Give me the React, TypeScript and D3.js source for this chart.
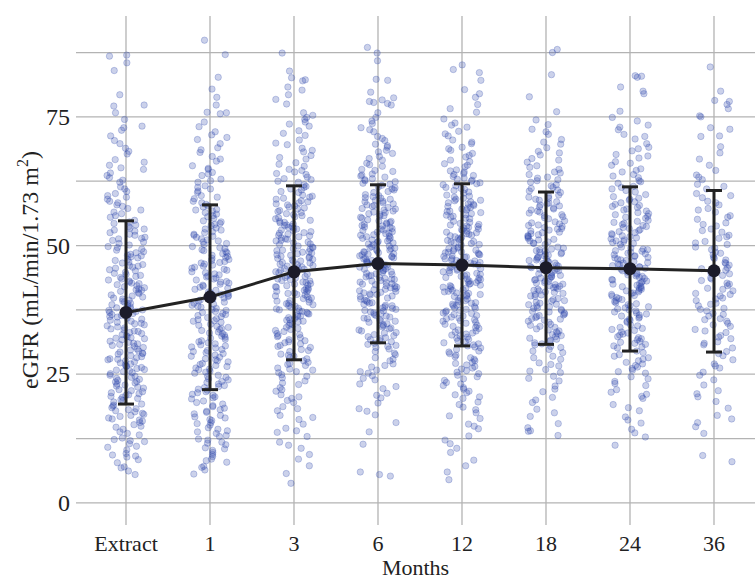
import * as d3 from "d3";

// time points on the x axis
const categories = ["Extract", "1", "3", "6", "12", "18", "24", "36"];

// eGFR readings per time point
const extractVals = [
  5.5, 6.2, 7.0, 7.8, 8.4, 9.1, 9.6, 8.9, 10.3, 10.8, 11.5, 12.1, 12.6, 13.2, 13.8, 14.3, 14.7, 11.9,
  15.2, 15.6, 16.1, 16.5, 17.0, 17.4, 17.9, 18.3, 18.8, 19.2, 19.6, 16.8, 18.1,
  20.1, 20.5, 21.0, 21.4, 21.8, 22.3, 22.7, 23.1, 23.6, 24.0, 24.4, 24.8, 20.9, 22.5, 23.3,
  25.1, 25.5, 25.9, 26.3, 26.8, 27.2, 27.6, 28.0, 28.4, 28.9, 29.3, 29.7, 25.7, 26.6, 27.9, 29.0,
  30.2, 30.6, 31.0, 31.4, 31.9, 32.3, 32.7, 33.1, 33.6, 34.0, 34.4, 34.8, 30.8, 32.0, 33.3, 34.6,
  35.1, 35.5, 35.9, 36.4, 36.8, 37.2, 37.7, 38.1, 38.5, 39.0, 39.4, 39.8, 36.1, 37.5, 38.8,
  40.2, 40.7, 41.1, 41.6, 42.0, 42.4, 42.9, 43.3, 43.8, 44.2, 44.6, 41.3, 42.7, 44.0,
  45.3, 45.8, 46.3, 46.8, 47.3, 47.8, 48.3, 48.8, 49.3, 49.8, 46.0, 48.0,
  50.4, 51.0, 51.6, 52.2, 52.8, 53.4, 54.0, 54.6, 51.3, 53.0,
  55.5, 56.2, 56.9, 57.6, 58.3, 59.0, 59.7, 57.2, 60.5, 61.4, 62.3, 63.2, 64.1, 64.8,
  65.6, 66.7, 67.8, 68.9, 69.8, 71.3, 72.4, 73.2, 74.5, 75.8, 77.1, 77.3, 79.3, 84.0, 85.5, 86.8, 87.0,
  6.8, 9.3, 11.0, 12.3, 13.5, 14.9, 15.9, 16.3, 17.2, 17.7, 18.5, 19.0, 19.9,
  20.3, 20.7, 21.2, 21.6, 22.0, 22.9, 23.5, 23.8, 24.2, 24.6,
  25.3, 25.8, 26.1, 26.5, 27.0, 27.4, 27.8, 28.2, 28.6, 29.1, 29.5, 29.9,
  30.4, 30.9, 31.2, 31.7, 32.1, 32.5, 32.9, 33.4, 33.8, 34.2, 34.9,
  35.3, 35.7, 36.2, 36.6, 37.0, 37.4, 37.9, 38.3, 38.7, 39.2, 39.6,
  40.0, 40.4, 40.9, 41.4, 41.8, 42.2, 42.6, 43.1, 43.5, 44.4, 44.8,
  45.1, 45.6, 46.1, 46.6, 47.1, 47.6, 48.1, 48.6, 49.1, 49.6,
  50.1, 50.7, 51.4, 52.0, 52.5, 53.2, 53.7, 54.3, 54.9,
  55.8, 56.5, 57.9, 58.6, 59.4, 60.1, 61.0, 62.7, 63.6, 65.1, 66.2, 68.3, 70.4, 72.9,
];
const oneVals = [
  5.6, 6.4, 7.1, 7.9, 8.5, 9.0, 9.4, 9.8, 10.2, 10.7, 11.3, 11.8, 12.4, 12.9, 13.5, 14.0, 14.6, 13.1,
  15.1, 15.6, 16.2, 16.7, 17.3, 17.8, 18.4, 18.9, 19.5, 16.0, 18.1,
  20.2, 20.6, 21.1, 21.6, 22.1, 22.6, 23.1, 23.6, 24.1, 24.6, 21.9, 23.4,
  25.2, 25.6, 26.0, 26.5, 26.9, 27.4, 27.8, 28.3, 28.7, 29.2, 29.6, 26.2, 28.0,
  30.1, 30.5, 30.9, 31.3, 31.8, 32.2, 32.6, 33.0, 33.5, 33.9, 34.3, 34.7, 31.5, 33.2,
  35.1, 35.4, 35.8, 36.2, 36.6, 37.0, 37.4, 37.8, 38.2, 38.6, 39.0, 39.4, 39.8, 36.4, 38.4,
  40.1, 40.5, 40.9, 41.3, 41.7, 42.1, 42.5, 42.9, 43.3, 43.7, 44.1, 44.5, 44.9, 41.0, 43.0,
  45.2, 45.6, 46.0, 46.4, 46.9, 47.3, 47.7, 48.1, 48.6, 49.0, 49.4, 49.8, 46.6, 48.4,
  50.2, 50.7, 51.1, 51.6, 52.0, 52.5, 53.0, 53.4, 53.9, 54.3, 54.8, 51.8,
  55.3, 55.8, 56.4, 56.9, 57.5, 58.0, 58.6, 59.1, 59.7, 57.0,
  60.3, 61.0, 61.6, 62.3, 62.9, 63.6, 64.2, 64.8, 65.5, 66.4, 67.3, 68.1, 69.0, 69.8,
  70.6, 71.5, 72.1, 73.1, 74.0, 75.6, 75.8, 75.9, 77.3, 78.8, 80.4, 82.7, 87.1, 89.9,
  6.9, 8.2, 10.5, 11.6, 12.2, 13.8, 14.3, 15.4, 16.5, 17.0, 17.6, 18.7, 19.2, 19.8,
  20.4, 20.9, 21.4, 22.4, 22.8, 23.9, 24.4, 24.8,
  25.4, 25.9, 26.7, 27.1, 27.6, 28.5, 29.0, 29.4, 29.8,
  30.3, 30.7, 31.1, 32.0, 32.4, 32.9, 33.7, 34.1, 34.5,
  35.3, 35.6, 36.0, 36.8, 37.2, 37.6, 38.0, 38.8, 39.2, 39.6,
  40.3, 40.7, 41.5, 41.9, 42.3, 42.7, 43.5, 43.9, 44.3, 44.7,
  45.4, 45.8, 46.2, 46.7, 47.1, 47.5, 47.9, 48.8, 49.2, 49.6,
  50.4, 50.9, 51.3, 52.2, 52.7, 53.2, 54.1, 54.6,
  55.6, 56.1, 56.7, 57.7, 58.3, 59.4, 60.6, 61.3, 62.6, 63.9, 65.0, 66.8, 68.6, 71.0,
];
const threeVals = [
  3.8, 5.7, 7.2, 8.5, 9.4, 10.6, 11.8, 12.9, 13.7, 14.5, 15.3, 16.2, 17.0, 17.9, 18.7, 19.5,
  20.3, 21.0, 21.7, 22.4, 23.0, 23.7, 24.3, 24.9,
  25.3, 25.8, 26.2, 26.7, 27.1, 27.6, 28.0, 28.5, 28.9, 29.4, 29.8,
  30.2, 30.6, 30.9, 31.3, 31.7, 32.1, 32.5, 32.9, 33.3, 33.7, 34.1, 34.5, 34.9,
  35.2, 35.5, 35.8, 36.2, 36.5, 36.8, 37.2, 37.5, 37.8, 38.2, 38.5, 38.8, 39.2, 39.5, 39.8,
  40.1, 40.4, 40.7, 41.0, 41.3, 41.6, 41.9, 42.2, 42.5, 42.8, 43.1, 43.4, 43.7, 44.0, 44.3, 44.6, 44.9,
  45.1, 45.4, 45.7, 46.0, 46.3, 46.6, 46.9, 47.2, 47.5, 47.8, 48.1, 48.4, 48.7, 49.0, 49.3, 49.6, 49.9,
  50.2, 50.5, 50.9, 51.2, 51.5, 51.9, 52.2, 52.5, 52.9, 53.2, 53.5, 53.9, 54.2, 54.5, 54.9,
  55.2, 55.6, 56.0, 56.4, 56.8, 57.1, 57.5, 57.9, 58.3, 58.7, 59.0, 59.4, 59.8,
  60.3, 60.8, 61.3, 61.8, 62.3, 62.8, 63.3, 63.8, 64.3, 64.8,
  65.4, 66.1, 66.8, 67.5, 68.2, 68.9, 69.6, 70.5, 71.4, 72.3, 73.2, 74.0, 74.5,
  74.9, 75.3, 75.8, 77.5, 78.4, 79.3, 80.2, 80.8, 82.0, 82.2, 82.6, 83.9, 87.4,
  11.2, 14.0, 16.6, 18.3, 19.9, 20.6, 22.0, 23.3, 24.6,
  25.5, 26.0, 26.9, 27.3, 28.2, 28.7, 29.6, 30.4, 31.1, 31.5, 32.3, 32.7, 33.5, 33.9, 34.7,
  35.3, 35.6, 36.0, 36.3, 36.7, 37.0, 37.3, 37.7, 38.0, 38.3, 38.7, 39.0, 39.3, 39.7,
  40.2, 40.5, 40.8, 41.1, 41.4, 41.7, 42.0, 42.3, 42.6, 42.9, 43.2, 43.5, 43.8, 44.1, 44.4, 44.7,
  45.2, 45.5, 45.8, 46.1, 46.4, 46.7, 47.0, 47.3, 47.6, 47.9, 48.2, 48.5, 48.8, 49.1, 49.4, 49.7,
  50.3, 50.7, 51.0, 51.3, 51.7, 52.0, 52.4, 52.7, 53.0, 53.4, 53.7, 54.0, 54.4, 54.7,
  55.4, 55.8, 56.2, 56.6, 57.3, 57.7, 58.1, 58.5, 59.2, 59.6,
  60.5, 61.0, 61.5, 62.5, 63.0, 64.0, 64.6, 65.8, 67.1, 68.5, 69.9, 71.8, 73.6,
];
const sixVals = [
  5.2, 5.5, 6.0, 11.4, 13.8, 15.6, 17.1, 18.3, 19.4, 20.4, 21.3, 22.2, 23.1, 23.9, 24.7,
  25.2, 25.8, 26.4, 27.0, 27.6, 28.2, 28.8, 29.4, 29.9,
  30.2, 30.6, 31.0, 31.5, 31.9, 32.3, 32.7, 33.1, 33.6, 34.0, 34.4, 34.8,
  35.1, 35.4, 35.8, 36.1, 36.4, 36.8, 37.1, 37.4, 37.8, 38.1, 38.4, 38.8, 39.1, 39.4, 39.8,
  40.1, 40.4, 40.6, 40.9, 41.2, 41.5, 41.8, 42.1, 42.4, 42.6, 42.9, 43.2, 43.5, 43.8, 44.1, 44.4, 44.6, 44.9,
  45.1, 45.4, 45.6, 45.9, 46.2, 46.4, 46.7, 47.0, 47.2, 47.5, 47.8, 48.0, 48.3, 48.6, 48.8, 49.1, 49.4, 49.6, 49.9,
  50.2, 50.5, 50.8, 51.1, 51.4, 51.7, 52.0, 52.3, 52.6, 52.9, 53.2, 53.5, 53.8, 54.1, 54.4, 54.7, 55.0,
  55.3, 55.7, 56.0, 56.4, 56.7, 57.1, 57.4, 57.8, 58.1, 58.5, 58.8, 59.2, 59.5, 59.9,
  60.3, 60.8, 61.2, 61.7, 62.1, 62.6, 63.0, 63.5, 63.9, 64.4, 64.8,
  65.4, 66.0, 66.6, 67.3, 67.9, 68.5, 69.1, 69.7, 70.4, 71.2, 72.1, 72.9, 73.7, 74.9,
  75.8, 77.3, 77.6, 77.8, 78.0, 78.3, 78.7, 79.8, 82.1, 82.3, 85.9, 87.4, 88.5,
  17.8, 20.9, 22.6, 24.2, 25.5, 26.7, 27.9, 29.1,
  30.4, 30.8, 31.3, 31.7, 32.1, 32.5, 33.0, 33.4, 33.8, 34.2, 34.6,
  35.3, 35.6, 35.9, 36.3, 36.6, 36.9, 37.3, 37.6, 37.9, 38.3, 38.6, 38.9, 39.3, 39.6,
  40.2, 40.5, 40.8, 41.1, 41.4, 41.6, 41.9, 42.2, 42.5, 42.8, 43.1, 43.4, 43.6, 43.9, 44.2, 44.5, 44.8,
  45.2, 45.5, 45.8, 46.0, 46.3, 46.6, 46.8, 47.1, 47.4, 47.6, 47.9, 48.2, 48.4, 48.7, 49.0, 49.2, 49.5, 49.8,
  50.3, 50.6, 50.9, 51.2, 51.5, 51.8, 52.1, 52.4, 52.7, 53.0, 53.3, 53.6, 53.9, 54.2, 54.5, 54.8,
  55.5, 55.8, 56.2, 56.5, 56.9, 57.2, 57.6, 57.9, 58.3, 58.6, 59.0, 59.3, 59.7,
  60.5, 61.0, 61.4, 61.9, 62.4, 62.8, 63.3, 63.7, 64.6, 65.7, 66.9, 68.2, 69.4, 70.8, 72.5, 74.2,
];
const twelveVals = [
  4.5, 6.0, 8.3, 9.8, 11.5, 13.0, 14.4, 15.3, 16.4, 17.5, 18.6, 19.6,
  20.3, 21.0, 21.7, 22.4, 23.1, 23.8, 24.5, 25.1, 25.7, 26.2, 26.8, 27.3, 27.9, 28.4, 29.0, 29.5,
  30.1, 30.5, 30.9, 31.3, 31.8, 32.2, 32.6, 33.0, 33.4, 33.9, 34.3, 34.7,
  35.1, 35.4, 35.8, 36.1, 36.4, 36.8, 37.1, 37.4, 37.8, 38.1, 38.4, 38.8, 39.1, 39.4, 39.8,
  40.1, 40.4, 40.7, 41.0, 41.3, 41.6, 41.9, 42.2, 42.5, 42.8, 43.1, 43.4, 43.7, 44.0, 44.3, 44.6, 44.9,
  45.1, 45.4, 45.6, 45.9, 46.2, 46.4, 46.7, 47.0, 47.2, 47.5, 47.8, 48.0, 48.3, 48.6, 48.8, 49.1, 49.4, 49.7,
  50.1, 50.4, 50.7, 51.0, 51.3, 51.6, 51.9, 52.2, 52.5, 52.8, 53.1, 53.4, 53.7, 54.0, 54.3, 54.7,
  55.2, 55.5, 55.9, 56.2, 56.6, 56.9, 57.3, 57.6, 58.0, 58.3, 58.7, 59.0, 59.4, 59.8,
  60.2, 60.7, 61.1, 61.6, 62.0, 62.5, 62.9, 63.4, 63.8, 64.3, 64.7,
  65.3, 65.9, 66.6, 67.2, 67.9, 68.5, 69.1, 69.8, 70.5, 71.3, 72.2, 73.0, 73.8, 74.6,
  75.9, 77.4, 78.8, 80.3, 82.1, 83.6, 84.2, 85.1,
  7.2, 10.6, 12.2, 14.9, 16.9, 18.1, 19.1, 20.6, 21.4, 22.1, 22.8, 23.4, 24.1, 24.8,
  25.4, 26.0, 26.5, 27.1, 27.6, 28.2, 28.7, 29.3, 29.8,
  30.3, 30.7, 31.1, 31.5, 32.0, 32.4, 32.8, 33.2, 33.6, 34.1, 34.5, 34.9,
  35.3, 35.6, 35.9, 36.3, 36.6, 36.9, 37.3, 37.6, 37.9, 38.3, 38.6, 38.9, 39.3, 39.6,
  40.2, 40.5, 40.8, 41.1, 41.4, 41.7, 42.0, 42.3, 42.6, 42.9, 43.2, 43.5, 43.8, 44.1, 44.4, 44.7,
  45.2, 45.5, 45.7, 46.0, 46.3, 46.6, 46.9, 47.1, 47.4, 47.7, 47.9, 48.2, 48.5, 48.7, 49.0, 49.3, 49.5,
  50.2, 50.5, 50.8, 51.1, 51.4, 51.7, 52.0, 52.3, 52.6, 52.9, 53.2, 53.5, 53.8, 54.1, 54.5,
  55.3, 55.7, 56.0, 56.4, 56.7, 57.1, 57.4, 57.8, 58.1, 58.5, 58.8, 59.2, 59.6,
  60.4, 60.9, 61.3, 61.8, 62.2, 62.7, 63.1, 63.6, 64.0, 64.5, 65.6, 66.3, 67.5, 68.8, 70.1, 71.7, 73.4, 76.6, 79.5,
];
const eighteenVals = [
  13.1, 13.9, 14.6, 15.4, 16.8, 18.2, 19.5, 20.5, 21.6, 22.7, 23.7, 24.6,
  25.3, 25.9, 26.6, 27.2, 27.9, 28.5, 29.2, 29.8,
  30.2, 30.7, 31.1, 31.6, 32.0, 32.5, 32.9, 33.4, 33.8, 34.3, 34.7,
  35.1, 35.5, 35.8, 36.2, 36.5, 36.9, 37.2, 37.6, 37.9, 38.3, 38.6, 39.0, 39.3, 39.7,
  40.1, 40.4, 40.7, 41.0, 41.3, 41.6, 41.9, 42.2, 42.5, 42.8, 43.1, 43.4, 43.7, 44.0, 44.3, 44.7,
  45.1, 45.4, 45.7, 46.0, 46.3, 46.6, 46.9, 47.2, 47.5, 47.8, 48.1, 48.4, 48.7, 49.0, 49.3, 49.7,
  50.2, 50.5, 50.9, 51.2, 51.6, 51.9, 52.3, 52.6, 53.0, 53.3, 53.7, 54.0, 54.4, 54.8,
  55.2, 55.6, 56.0, 56.5, 56.9, 57.3, 57.7, 58.1, 58.5, 59.0, 59.4, 59.8,
  60.3, 60.8, 61.3, 61.8, 62.3, 62.8, 63.3, 63.8, 64.3, 64.8,
  65.5, 66.2, 66.9, 67.6, 68.3, 69.0, 69.7, 70.6, 71.6, 72.6, 73.5, 74.4,
  76.0, 78.9, 83.2, 87.5, 88.1,
  14.0, 17.5, 20.0, 22.1, 24.2, 25.6, 26.9, 28.2, 29.5,
  30.4, 30.9, 31.4, 31.8, 32.3, 32.7, 33.2, 33.6, 34.1, 34.5,
  35.3, 35.7, 36.0, 36.4, 36.7, 37.1, 37.4, 37.8, 38.1, 38.5, 38.8, 39.2, 39.5,
  40.2, 40.5, 40.9, 41.2, 41.5, 41.8, 42.1, 42.4, 42.7, 43.0, 43.3, 43.6, 43.9, 44.2, 44.5,
  45.2, 45.5, 45.9, 46.2, 46.5, 46.8, 47.1, 47.4, 47.7, 48.0, 48.3, 48.6, 48.9, 49.2, 49.5,
  50.4, 50.7, 51.1, 51.4, 51.8, 52.1, 52.5, 52.8, 53.2, 53.5, 53.9, 54.2, 54.6,
  55.4, 55.8, 56.3, 56.7, 57.1, 57.5, 57.9, 58.3, 58.8, 59.2, 59.6,
  60.6, 61.1, 61.6, 62.6, 63.1, 64.1, 65.2, 66.6, 68.0, 70.1, 72.1,
];
const twentyFourVals = [
  11.2, 12.8, 14.3, 15.5, 16.7, 17.9, 19.1, 20.3, 21.1, 22.0, 22.8, 23.6, 24.5,
  25.2, 25.8, 26.4, 27.0, 27.6, 28.2, 28.8, 29.5,
  30.1, 30.5, 31.0, 31.4, 31.9, 32.3, 32.8, 33.2, 33.7, 34.1, 34.6,
  35.1, 35.5, 35.9, 36.3, 36.7, 37.1, 37.5, 37.9, 38.3, 38.7, 39.1, 39.5, 39.9,
  40.2, 40.5, 40.8, 41.2, 41.5, 41.8, 42.1, 42.5, 42.8, 43.1, 43.4, 43.8, 44.1, 44.4, 44.8,
  45.1, 45.4, 45.8, 46.1, 46.4, 46.7, 47.1, 47.4, 47.7, 48.0, 48.4, 48.7, 49.0, 49.3, 49.7,
  50.2, 50.6, 50.9, 51.3, 51.7, 52.1, 52.5, 52.9, 53.3, 53.7, 54.1, 54.5, 54.9,
  55.3, 55.7, 56.2, 56.7, 57.1, 57.6, 58.0, 58.5, 59.0, 59.5, 59.9,
  60.4, 61.0, 61.5, 62.1, 62.6, 63.2, 63.8, 64.3, 64.9,
  65.6, 66.3, 67.0, 67.7, 68.4, 69.1, 69.8, 70.7, 71.6, 72.5, 73.4, 74.2, 74.9,
  76.1, 79.5, 80.0, 80.8, 82.7, 82.9, 83.0,
  13.6, 16.1, 18.5, 20.7, 21.5, 23.2, 24.1, 25.5, 26.1, 26.7, 27.3, 27.9, 28.5, 29.2,
  30.3, 30.8, 31.2, 31.7, 32.1, 32.6, 33.0, 33.5, 33.9, 34.4,
  35.3, 35.7, 36.1, 36.5, 36.9, 37.3, 37.7, 38.1, 38.5, 38.9, 39.3, 39.7,
  40.3, 40.7, 41.0, 41.3, 41.7, 42.0, 42.3, 42.6, 43.0, 43.3, 43.6, 44.0, 44.3, 44.6,
  45.3, 45.6, 45.9, 46.3, 46.6, 46.9, 47.2, 47.6, 47.9, 48.2, 48.5, 48.9, 49.2, 49.5,
  50.4, 50.8, 51.1, 51.5, 51.9, 52.3, 52.7, 53.1, 53.5, 53.9, 54.3, 54.7,
  55.5, 56.0, 56.4, 56.9, 57.4, 57.8, 58.3, 58.8, 59.2,
  60.7, 61.3, 62.4, 63.5, 64.6, 66.0, 67.4, 68.8, 71.2, 73.0,
];
const thirtySixVals = [
  8.0, 9.2, 13.5, 14.8, 15.6, 17.0, 18.4, 19.7, 20.6, 21.8, 22.9, 23.9, 24.8,
  25.4, 26.2, 27.0, 27.8, 28.6, 29.4, 30.1, 30.7, 31.3, 31.9, 32.5, 33.1, 33.7, 34.3, 34.9,
  35.3, 35.8, 36.3, 36.8, 37.3, 37.8, 38.3, 38.8, 39.3, 39.8,
  40.2, 40.7, 41.2, 41.7, 42.2, 42.7, 43.2, 43.7, 44.2, 44.7,
  45.2, 45.7, 46.2, 46.7, 47.2, 47.7, 48.2, 48.7, 49.2, 49.7,
  50.2, 50.8, 51.4, 52.0, 52.6, 53.2, 53.8, 54.4, 55.1, 55.8, 56.5, 57.2, 57.9, 58.6, 59.3,
  60.1, 61.0, 61.9, 62.8, 63.7, 64.6, 65.6, 66.8, 68.0, 69.2,
  71.2, 71.3, 72.6, 72.9, 75.0, 75.2, 76.6, 77.4, 78.0, 78.2, 80.0, 84.7,
  16.3, 21.2, 26.6, 29.0, 31.0, 32.2, 33.4, 34.6, 35.6, 36.6, 37.6, 38.6, 39.6,
  40.5, 41.5, 42.5, 43.5, 44.5, 45.5, 46.5, 47.5, 48.5, 49.5, 50.5, 51.7, 52.9, 54.1,
  55.5, 56.9, 58.3, 59.7, 61.5, 63.3,
];
const groupVals = [
  extractVals, oneVals, threeVals, sixVals,
  twelveVals, eighteenVals, twentyFourVals, thirtySixVals,
];

// mean and mean +/- SD
const means = [37.0, 40.0, 44.9, 46.5, 46.2, 45.7, 45.5, 45.1];
const upper = [54.8, 57.9, 61.6, 61.8, 62.0, 60.4, 61.4, 60.7];
const lower = [19.2, 22.0, 27.8, 31.1, 30.5, 30.8, 29.5, 29.3];

const yTicks = [0, 25, 50, 75];
const yGrid = [0, 12.5, 25, 37.5, 50, 62.5, 75, 87.5];

const W = 755;
const H = 580;
const FONT = "'Liberation Serif', 'Times New Roman', serif";

// deterministic horizontal jitter, in [-0.5, 0.5)
function jitter(i: number, k: number) {
  const s = Math.sin((i + 1) * 12.9898 + (k + 1) * 78.233) * 43758.5453;
  return s - Math.floor(s) - 0.5;
}

export default function App() {
  const x = d3.scalePoint<string>().domain(categories).range([126, 714]);
  const y = d3.scaleLinear().domain([-4.3, 94.6]).range([525, 16]);
  const left = 76;
  const jw = 38;

  const line = d3
    .line<number>()
    .x((_, i) => x(categories[i]) as number)
    .y((d) => y(d));

  return (
    <svg
      width={W}
      height={H}
      style={{ position: "absolute", left: 0, top: 0, background: "#fff" }}
      fontFamily={FONT}
    >
      {/* grid */}
      <g stroke="#b3b3b3" strokeWidth={1.3}>
        {yGrid.map((v) => (
          <line key={v} x1={left} x2={W} y1={y(v)} y2={y(v)} />
        ))}
        {categories.map((c) => (
          <line key={c} x1={x(c)} x2={x(c)} y1={16} y2={525} />
        ))}
      </g>

      {/* jittered points */}
      <g fill="rgb(48,72,172)" fillOpacity={0.25} stroke="rgb(48,72,172)" strokeOpacity={0.33} strokeWidth={0.8}>
        {groupVals.map((vals, k) =>
          vals.map((v, i) => (
            <circle
              key={k + "-" + i}
              cx={(x(categories[k]) as number) + jitter(i, k) * jw}
              cy={y(v)}
              r={3.2}
            />
          ))
        )}
      </g>

      {/* error bars */}
      <g stroke="#222" strokeWidth={3}>
        {categories.map((c, i) => {
          const cx = x(c) as number;
          return (
            <g key={c}>
              <line x1={cx} x2={cx} y1={y(upper[i])} y2={y(lower[i])} />
              <line x1={cx - 8} x2={cx + 8} y1={y(upper[i])} y2={y(upper[i])} />
              <line x1={cx - 8} x2={cx + 8} y1={y(lower[i])} y2={y(lower[i])} />
            </g>
          );
        })}
      </g>

      {/* mean line */}
      <path d={line(means) || ""} fill="none" stroke="#222" strokeWidth={3} />
      <g fill="#1b1b29">
        {means.map((m, i) => (
          <circle key={i} cx={x(categories[i])} cy={y(m)} r={6.5} />
        ))}
      </g>

      {/* y tick labels */}
      <g fontSize={24} fill="#222" textAnchor="end">
        {yTicks.map((t) => (
          <text key={t} x={70} y={y(t) + 8}>
            {t}
          </text>
        ))}
      </g>

      {/* x tick labels */}
      <g fontSize={22} fill="#222" textAnchor="middle">
        {categories.map((c) => (
          <text key={c} x={x(c)} y={551}>
            {c}
          </text>
        ))}
      </g>

      <text x={(left + W) / 2} y={575} fontSize={22} fill="#222" textAnchor="middle">
        Months
      </text>

      <text
        transform="translate(38,270) rotate(-90)"
        fontSize={24}
        fill="#222"
        textAnchor="middle"
      >
        eGFR (mL/min/1.73 m
        <tspan fontSize={16} dy={-10}>2</tspan>
        <tspan dy={10}>)</tspan>
      </text>
    </svg>
  );
}
